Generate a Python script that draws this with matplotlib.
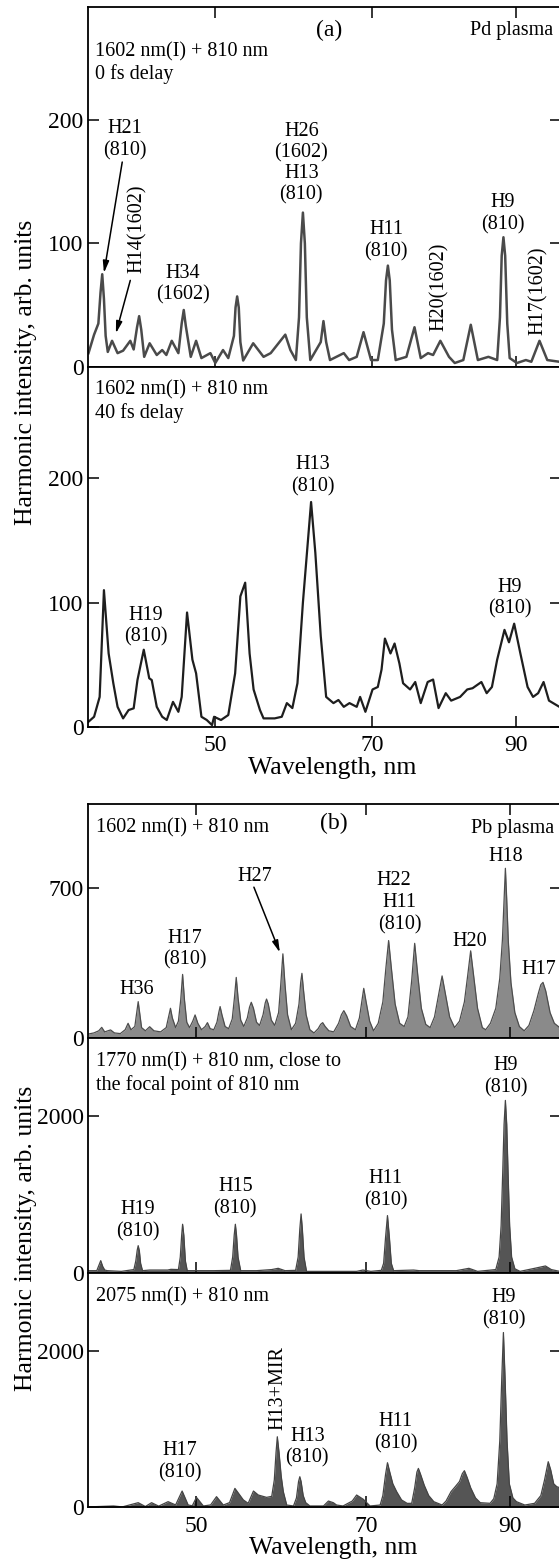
import numpy as np
import matplotlib
matplotlib.use("Agg")
import matplotlib.pyplot as plt

plt.rcParams["font.family"] = ["Liberation Serif", "DejaVu Serif"]

# ---- data (wavelength in nm, intensity in arb. units) ----
X_TICKS = [50, 70, 90]

PD0_WL = [34.85, 35.5, 36.0, 36.25, 36.45, 36.65, 36.85, 37.1, 37.6, 38.25, 38.9, 39.75, 40.15,
          40.55, 40.8, 41.05, 41.4, 42.05, 42.9, 43.55, 44.05, 44.7, 45.5, 45.9, 46.15, 46.4,
          47.0, 47.65, 48.3, 49.4, 50.0, 50.95, 51.6, 52.3, 52.5, 52.7, 52.9, 53.1, 53.45, 54.7,
          56.0, 56.9, 58.75, 59.4, 60.1, 60.5, 60.75, 61.0, 61.25, 61.5, 61.95, 63.3, 63.65,
          64.0, 64.5, 66.3, 67.0, 68.0, 68.9, 69.9, 70.8, 71.6, 71.9, 72.15, 72.4, 72.7, 73.2,
          74.65, 75.75, 76.6, 77.6, 78.3, 79.3, 80.5, 81.3, 82.5, 83.55, 84.55, 86.05, 87.3,
          87.7, 87.95, 88.2, 88.45, 88.75, 89.1, 90.15, 91.45, 92.25, 93.45, 94.6, 96.4]
PD0_INT = [11, 26, 35, 60, 75, 55, 25, 12, 21, 11, 13, 21, 14,
           32, 41, 30, 8, 19, 9.5, 13.5, 9.5, 21, 11, 35, 46, 33,
           8, 21, 7, 11, 3, 13.5, 7, 25, 48, 57, 48, 20, 5, 19,
           8, 11, 26, 13.5, 5.4, 40, 100, 125, 100, 40, 5.4, 20, 37,
           20, 5.4, 11, 5.4, 8, 28, 5.4, 5.4, 35, 70, 82, 70, 30, 5.4,
           8, 32, 7, 11, 9.5, 21, 8, 3, 5.4, 34, 5.4, 8, 5.4,
           40, 90, 105, 90, 35, 7, 3, 5.4, 4, 21, 5.4, 4]

PD40_WL = [34.85, 35.5, 36.15, 36.65, 37.2, 37.75, 38.25, 38.9, 39.55, 40.15, 40.6, 41.35, 42.0,
           42.3, 42.9, 43.55, 44.1, 44.85, 45.5, 45.9, 46.55, 47.2, 47.65, 48.3, 48.95, 49.6,
           49.85, 50.7, 51.6, 52.45, 53.1, 53.7, 54.25, 54.75, 55.55, 56.0, 57.4, 58.3, 58.95,
           59.65, 60.3, 61.0, 62.05, 62.6, 63.3, 64.0, 64.95, 65.6, 66.3, 67.05, 68.0, 68.45,
           69.15, 70.1, 70.8, 71.3, 71.75, 72.5, 73.05, 73.7, 74.2, 75.15, 75.85, 76.6, 77.55,
           78.3, 79.05, 80.05, 80.8, 82.05, 83.05, 83.8, 85.05, 85.8, 86.55, 87.3, 88.35, 89.0,
           89.75, 90.65, 91.7, 92.5, 93.25, 94.05, 94.85, 96.4]
PD40_INT = [4, 8, 24, 110, 59, 35, 16, 6.7, 13.4, 14.8, 37.6, 62, 39,
            37.6, 16, 8, 5.4, 20, 12, 24, 92, 54, 43, 8, 5.4, 1.3,
            8, 5.4, 9.4, 43, 105, 116, 59, 30, 13.4, 6.7, 6.7, 8, 19,
            15, 35, 100, 181, 140, 73, 24, 19, 21.5, 16, 19, 16, 24,
            12, 30, 32, 46, 71, 59, 67, 51, 35, 30, 36, 19, 36,
            38, 15, 27, 21, 24, 30, 31, 36, 27, 32, 54, 78, 68,
            83, 59, 32, 24, 27, 36, 21, 16]

PB1602_WL = [38.75, 39.3, 39.8, 40.1, 40.4, 41.0, 41.4, 42.0, 42.5, 42.8, 43.1, 43.5, 43.7, 43.85,
             44.0, 44.2, 44.6, 45.05, 45.5, 46.2, 46.8, 47.05, 47.25, 47.45, 47.8, 48.1, 48.35,
             48.55, 48.75, 49.0, 49.3, 49.65, 49.9, 50.2, 50.6, 51.0, 51.25, 51.55, 51.95, 52.3,
             52.5, 52.65, 52.85, 53.2, 53.6, 54.0, 54.25, 54.45, 54.65, 54.95, 55.3, 55.7, 55.95,
             56.15, 56.4, 56.75, 57.1, 57.5, 57.75, 57.9, 58.1, 58.45, 58.85, 59.3, 59.55, 59.8,
             60.05, 60.35, 60.8, 61.3, 61.7, 61.9, 62.05, 62.25, 62.55, 63.0, 63.5, 64.0, 64.3,
             64.55, 64.85, 65.3, 65.9, 66.5, 66.85, 67.15, 67.5, 68.0, 68.6, 69.1, 69.4, 69.65,
             69.95, 70.4, 70.9, 71.5, 72.1, 72.5, 72.85, 73.2, 73.7, 74.3, 74.9, 75.4, 75.9, 76.3,
             76.7, 77.2, 77.8, 78.4, 79.0, 79.6, 80.05, 80.5, 81.1, 81.8, 82.5, 83.2, 83.7, 84.1,
             84.5, 85.1, 85.8, 86.3, 87.0, 87.8, 88.4, 88.8, 89.05, 89.25, 89.45, 89.7, 90.1,
             90.7, 91.4, 92.15, 92.9, 93.7, 94.4, 94.8, 95.15, 95.6, 96.3, 97.0, 97.9]
PB1602_INT = [20, 25, 35, 51, 30, 39, 25, 22, 40, 70, 40, 55, 120, 171,
              120, 50, 35, 54, 35, 30, 50, 100, 140, 95, 50, 80, 180,
              298, 180, 75, 50, 80, 109, 70, 40, 55, 73, 45, 40, 75,
              120, 148, 110, 55, 45, 90, 190, 284, 190, 85, 55, 95, 145,
              168, 140, 75, 60, 110, 165, 183, 160, 85, 60, 120, 250, 394,
              250, 110, 40, 70, 160, 260, 303, 220, 110, 40, 25, 45, 65,
              73, 55, 35, 30, 70, 110, 129, 105, 55, 40, 95, 170, 233,
              170, 80, 35, 70, 170, 330, 456, 330, 160, 70, 55, 100, 270, 443,
              300, 140, 65, 50, 100, 210, 291, 210, 100, 50, 80, 170, 300, 408,
              300, 140, 50, 40, 70, 140, 280, 460, 650, 793, 650, 450, 260,
              120, 55, 35, 60, 130, 210, 250, 261, 220, 120, 70, 50]

PB1770_WL = [38.75, 39.6, 39.8, 40.0, 40.2, 40.4, 40.65, 42.1, 43.4, 43.6, 43.75, 43.85, 43.97,
             44.1, 44.3, 45.05, 46.95, 47.3, 48.1, 48.3, 48.45, 48.55, 48.68, 48.85, 49.05, 51.95,
             53.8, 54.05, 54.22, 54.35, 54.48, 54.65, 54.95, 56.75, 58.5, 59.25, 60.05, 61.3,
             61.6, 61.8, 61.95, 62.1, 62.3, 62.6, 68.75, 69.55, 70.55, 71.9, 72.2, 72.45, 72.7,
             72.95, 73.2, 73.5, 76.15, 76.9, 82.05, 83.85, 85.1, 87.8, 88.3, 88.6, 88.85, 89.05,
             89.25, 89.45, 89.65, 89.9, 90.2, 90.7, 91.5, 93.8, 95.55, 96.5, 97.9]
PB1770_INT = [26, 26, 90, 154, 80, 35, 26, 17, 40, 150, 290, 346, 280,
              120, 26, 34, 34, 43, 40, 200, 480, 620, 480, 150, 26, 26,
              30, 200, 480, 620, 480, 200, 26, 26, 40, 56, 26, 30,
              200, 560, 752, 560, 200, 17, 17, 34, 17, 30, 120, 450, 731,
              450, 120, 26, 34, 26, 26, 56, 17, 40, 200, 600, 1300, 1900,
              2205, 1900, 1300, 600, 200, 50, 17, 56, 86, 40, 17]

PB2075_WL = [38.75, 41.3, 42.2, 43.85, 44.6, 45.25, 46.0, 47.0, 47.8, 48.5, 49.15, 49.6, 50.05,
             50.8, 51.6, 52.25, 53.0, 53.7, 54.3, 55.25, 55.8, 56.4, 56.95, 57.9, 58.5, 58.8,
             59.0, 59.15, 59.35, 59.6, 59.85, 60.25, 61.05, 61.4, 61.65, 61.8, 61.95, 62.2, 62.5,
             63.0, 64.65, 65.25, 65.85, 66.25, 67.05, 68.2, 68.75, 69.6, 70.45, 71.75, 72.1, 72.45,
             72.7, 73.0, 73.4, 73.9, 74.55, 75.3, 75.9, 76.3, 76.6, 76.8, 77.1, 77.6, 78.2, 78.9,
             80.05, 80.6, 81.3, 81.9, 82.5, 82.9, 83.2, 83.6, 84.1, 84.8, 85.5, 86.95, 87.5, 88.0,
             88.4, 88.7, 88.95, 89.2, 89.5, 89.85, 90.4, 90.95, 92.25, 93.8, 94.8, 95.4, 96.0,
             96.4, 96.9, 97.4, 97.9]
PB2075_INT = [5, 17, 5, 59, 10, 59, 15, 72, 30, 208, 29, 20, 127,
              17, 30, 136, 29, 60, 242, 94, 51, 208, 157, 127, 140, 350,
              700, 902, 700, 400, 200, 29, 17, 120, 330, 391, 330, 150, 60,
              17, 17, 80, 59, 29, 17, 80, 157, 102, 17, 29, 150, 420,
              570, 450, 300, 200, 94, 50, 51, 250, 450, 497, 420, 280, 150, 72,
              29, 80, 200, 264, 330, 430, 468, 380, 250, 120, 59, 51, 110, 300,
              850, 1650, 2235, 1650, 850, 300, 120, 72, 29, 51, 150, 350, 583,
              480, 300, 264, 250]

W, H = 559, 1559
fig = plt.figure(figsize=(W / 100, H / 100), dpi=100)

TICK_PX_A = [215.3, 371.8, 515.9]
TICK_PX_B = [196.0, 366.5, 510.3]
LEFT_PX, RIGHT_PX = 88.4, 560.5


def wavelength_scale(ax, tick_px):
    # the spectrometer axis is not linear in nm; calibrate it on the tick marks
    coef = np.polyfit(X_TICKS, tick_px, 2)
    grid = np.linspace(20, 130, 4001)
    grid_px = np.polyval(coef, grid)
    fwd = lambda x: np.polyval(coef, np.asarray(x, dtype=float))
    inv = lambda p: np.interp(p, grid_px, grid)
    ax.set_xscale("function", functions=(fwd, inv))
    ax.set_xlim(inv(LEFT_PX), inv(RIGHT_PX))


def make_axes(top_px, bottom_px, tick_px, ylim, yticks, top=False, labels=False):
    ax = fig.add_axes([LEFT_PX / W, 1 - bottom_px / H,
                       (RIGHT_PX - LEFT_PX) / W, (bottom_px - top_px) / H])
    wavelength_scale(ax, tick_px)
    ax.set_xticks(X_TICKS)
    ax.set_ylim(*ylim)
    ax.set_yticks(yticks)
    ax.tick_params(direction="in", length=8, width=1.1, labelsize=17,
                   top=top, right=True, labelbottom=labels)
    ax.tick_params(axis="x", pad=6)
    for s in ax.spines.values():
        s.set_linewidth(1.3)
    return ax


def txt(ax, x, y, s, **kw):
    kw.setdefault("ha", "center")
    kw.setdefault("va", "center")
    kw.setdefault("fontsize", 14.5)
    kw.setdefault("linespacing", 1.2)
    ax.text(x, y, s, **kw)


def arrow(ax, start, tip):
    ax.annotate("", xy=tip, xytext=start,
                arrowprops=dict(arrowstyle="-|>,head_length=0.7,head_width=0.18",
                                color="black", lw=1.1, shrinkA=0, shrinkB=0))


# ---------------- panel (a): Pd plasma ----------------
ax1 = make_axes(6.7, 366.7, TICK_PX_A, (0, 292), [0, 100, 200], top=True)
ax1.plot(PD0_WL, PD0_INT, color="#4a4a4a", lw=1.8)
txt(ax1, 64.4, 273, "(a)", fontsize=17)
txt(ax1, 89.4, 273, "Pd plasma")
txt(ax1, 35.66, 246, "1602 nm(I) + 810 nm\n0 fs delay", ha="left")
txt(ax1, 39.1, 184, "H21\n(810)")
txt(ax1, 60.8, 165, "H26\n(1602)\nH13\n(810)", linespacing=1.15)
txt(ax1, 46.0, 67, "H34\n(1602)")
txt(ax1, 71.9, 102, "H11\n(810)")
txt(ax1, 88.1, 124, "H9\n(810)")
txt(ax1, 40.6, 112, "H14(1602)", rotation=90)
txt(ax1, 79.1, 65, "H20(1602)", rotation=90)
txt(ax1, 93.3, 62, "H17(1602)", rotation=90)
arrow(ax1, (38.8, 166), (36.65, 76))
arrow(ax1, (39.75, 70), (38.05, 27))

ax2 = make_axes(366.7, 726.7, TICK_PX_A, (0, 290), [0, 100, 200], labels=True)
ax2.plot(PD40_WL, PD40_INT, color="#1e1e1e", lw=1.6)
txt(ax2, 35.66, 262, "1602 nm(I) + 810 nm\n40 fs delay", ha="left")
txt(ax2, 62.3, 202, "H13\n(810)")
txt(ax2, 41.55, 81, "H19\n(810)")
txt(ax2, 89.1, 103.5, "H9\n(810)")

fig.text(26 / W, 1 - 372 / H, "Harmonic intensity, arb. units", rotation=90,
         ha="center", va="center", fontsize=18.5)
fig.text(332 / W, 1 - 768 / H, "Wavelength, nm", ha="center", va="center", fontsize=18.5)

# ---------------- panel (b): Pb plasma ----------------
ax3 = make_axes(804, 1038.3, TICK_PX_B, (0, 1093), [0, 700], top=True)
ax3.fill_between(PB1602_WL, 0, PB1602_INT, color="#8a8a8a", lw=0)
ax3.plot(PB1602_WL, PB1602_INT, color="#4d4d4d", lw=0.9)
txt(ax3, 39.5, 980, "1602 nm(I) + 810 nm", ha="left")
txt(ax3, 65.9, 1003, "(b)", fontsize=17)
txt(ax3, 90.3, 980, "Pb plasma")
txt(ax3, 89.25, 847, "H18")
txt(ax3, 56.55, 754, "H27")
txt(ax3, 73.55, 735, "H22")
txt(ax3, 74.3, 581, "H11\n(810)")
txt(ax3, 83.9, 451, "H20")
txt(ax3, 94.5, 321, "H17")
txt(ax3, 48.8, 415, "H17\n(810)")
txt(ax3, 43.75, 228, "H36")
arrow(ax3, (56.45, 705), (59.45, 400))

ax4 = make_axes(1038.3, 1272.7, TICK_PX_B, (0, 3000), [0, 2000])
ax4.fill_between(PB1770_WL, 0, PB1770_INT, color="#555555", lw=0)
ax4.plot(PB1770_WL, PB1770_INT, color="#444444", lw=0.9)
txt(ax4, 39.5, 2549, "1770 nm(I) + 810 nm, close to\nthe focal point of 810 nm", ha="left")
txt(ax4, 89.3, 2506, "H9\n(810)")
txt(ax4, 43.85, 662, "H19\n(810)")
txt(ax4, 54.35, 957, "H15\n(810)")
txt(ax4, 72.45, 1060, "H11\n(810)")

ax5 = make_axes(1272.7, 1507.3, TICK_PX_B, (0, 3000), [0, 2000], labels=True)
ax5.fill_between(PB2075_WL, 0, PB2075_INT, color="#555555", lw=0)
ax5.plot(PB2075_WL, PB2075_INT, color="#444444", lw=0.9)
txt(ax5, 39.5, 2690, "2075 nm(I) + 810 nm", ha="left")
txt(ax5, 89.0, 2539, "H9\n(810)")
txt(ax5, 59.25, 1520, "H13+MIR", rotation=90)
txt(ax5, 62.7, 767, "H13\n(810)")
txt(ax5, 48.3, 583, "H17\n(810)")
txt(ax5, 73.8, 957, "H11\n(810)")

fig.text(26 / W, 1 - 1238 / H, "Harmonic intensity, arb. units", rotation=90,
         ha="center", va="center", fontsize=18.5)
fig.text(333 / W, 1 - 1548 / H, "Wavelength, nm", ha="center", va="center", fontsize=18.5)

fig.savefig("out.png", dpi=100)
